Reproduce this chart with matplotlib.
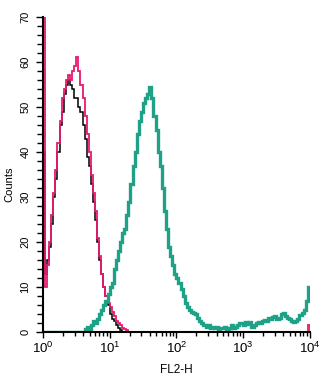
#!/usr/bin/env python3
import numpy as np
import matplotlib
matplotlib.use('Agg')
import matplotlib.pyplot as plt
from matplotlib.ticker import LogLocator, MultipleLocator, LogFormatterSciNotation

plt.rcParams['font.family'] = ['Liberation Sans', 'DejaVu Sans']
plt.rcParams['mathtext.fontset'] = 'custom'
plt.rcParams['mathtext.rm'] = 'Liberation Sans'
plt.rcParams['mathtext.it'] = 'Liberation Sans'

# 128 log-spaced channels from 10^0 to 10^4
n_channels = 128

# isotype control (black)
control = [
    40, 13, 16, 19, 24, 30, 34, 40, 46, 49, 53, 55, 56, 55, 54, 52,
    52, 50, 49, 46, 43, 39, 37, 33, 29, 25, 20, 16, 13, 10, 8, 6,
    4, 3, 2.5, 1.5, 1, 0.5, 0, 0, 0, 0, 0, 0, 0, 0, 0, 0,
] + [0] * 80

# unstained cells (pink)
unstained = [
    80, 10, 15, 20, 26, 31, 36, 42, 47, 52, 54, 56, 57, 56, 58, 59,
    61, 58, 55, 52, 48, 44, 40, 35, 31, 27, 21, 17, 13, 10, 8, 6.5,
    5.5, 4.5, 3.5, 2.5, 2, 1.5, 1, 0.8, 0.5, 0, 0, 0, 0, 0, 0, 0,
] + [0] * 79 + [1.5]

# anti-receptor antibody (green)
stained = [
    0, 0, 0, 0, 0, 0, 0, 0, 0, 0, 0, 0, 0, 0, 0, 0,
    0, 0, 0, 0, 0.8, 1.2, 0.5, 1.5, 2.5, 2, 3, 4, 5, 6, 7, 8.5,
    10, 11, 14, 16, 18, 20, 22, 23, 26, 29, 33, 37, 40, 44, 47, 49,
    51, 52, 53, 54.5, 52, 48, 45, 40, 37, 32, 27, 23, 19, 17, 15, 13,
    12, 11, 9.5, 8, 6.5, 5.5, 5, 4.5, 4.2, 4, 3.2, 2.5, 2, 1.5, 1.2, 1.5,
    1, 1.2, 1, 1.2, 0.8, 1, 1, 1.2, 0.8, 1, 1.5, 1, 1.2, 1.5, 2, 2,
    1.5, 2.2, 1.8, 2.3, 1.2, 1.5, 2, 2.2, 2, 2.5, 2.8, 2.5, 3.2, 3, 3.4, 3.5,
    3, 3.2, 4, 4.2, 3.5, 3.2, 3, 2.5, 2.3, 2.5, 3, 3.8, 4.2, 5, 7, 10,
]

edges = np.logspace(0, 4, n_channels + 1)

fig = plt.figure(figsize=(3.3, 3.77), dpi=100)
ax = fig.add_axes([0.130, 0.119, 0.809, 0.836])

ax.stairs(control, edges, baseline=0, color='black', lw=1.1)
ax.stairs(unstained, edges, baseline=0, color='#e8196e', lw=1.3)
ax.stairs(stained, edges, baseline=None, color='#1fa187', lw=2.4)

ax.set_xscale('log')
ax.set_xlim(1, 1e4)
ax.set_ylim(0, 70)

ax.spines['top'].set_visible(False)
ax.spines['right'].set_visible(False)
ax.spines['left'].set_linewidth(1.5)
ax.spines['bottom'].set_linewidth(1.5)

ax.yaxis.set_major_locator(MultipleLocator(10))
ax.yaxis.set_minor_locator(MultipleLocator(2))
ax.xaxis.set_major_locator(LogLocator(base=10, numticks=10))
ax.xaxis.set_minor_locator(LogLocator(base=10, subs=np.arange(2, 10), numticks=20))
ax.xaxis.set_major_formatter(LogFormatterSciNotation())

ax.tick_params(axis='y', which='major', length=5, width=1, pad=4, labelsize=8)
ax.tick_params(axis='y', which='minor', length=4, width=1)
ax.tick_params(axis='x', which='major', length=4, width=1, pad=2, labelsize=9.5)
ax.tick_params(axis='x', which='minor', length=3, width=1)
for lab in ax.get_yticklabels():
    lab.set_rotation(90)
    lab.set_va('center')

ax.set_ylabel('Counts', fontsize=8)
ax.yaxis.set_label_coords(-0.105, 0.47)
ax.set_xlabel('FL2-H', fontsize=8.5)
ax.xaxis.set_label_coords(0.50, -0.10)

fig.savefig('out.png', dpi=100)
